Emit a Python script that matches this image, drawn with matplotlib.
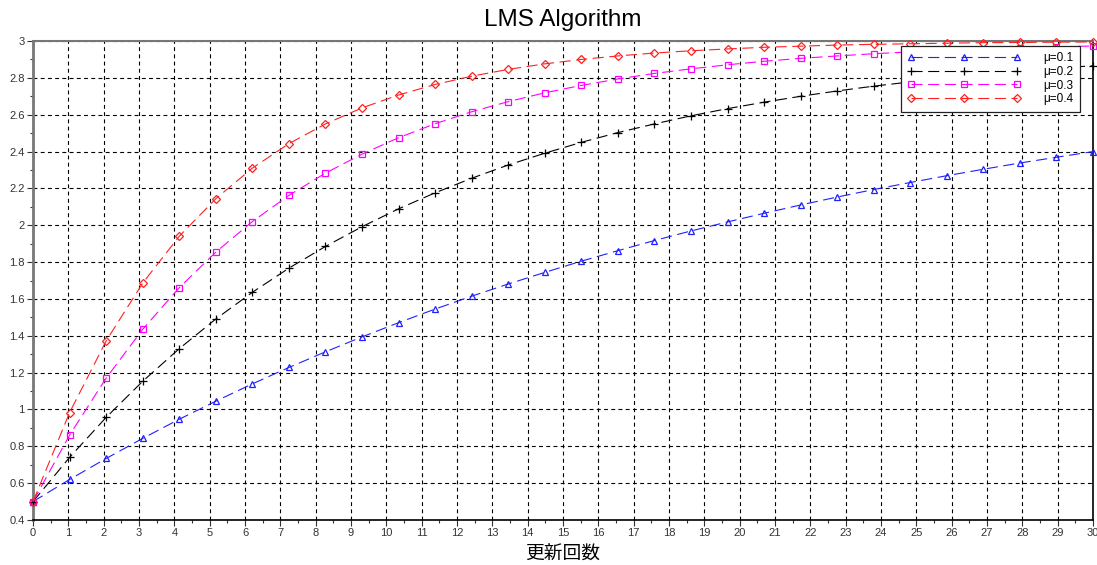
import matplotlib
matplotlib.use("Agg")
import matplotlib.pyplot as plt
import numpy as np
from matplotlib.ticker import MultipleLocator

plt.rcParams['font.family'] = ['Liberation Sans', 'Noto Sans CJK JP', 'DejaVu Sans']

# update index positions (30 samples spanning 0..30)
x_vals = np.linspace(0, 30, 30)

mu01 = [0.500, 0.620, 0.734, 0.843, 0.947, 1.045, 1.139, 1.228, 1.313, 1.394,
        1.471, 1.545, 1.615, 1.681, 1.744, 1.805, 1.862, 1.917, 1.969, 2.018,
        2.065, 2.110, 2.153, 2.194, 2.232, 2.269, 2.304, 2.338, 2.369, 2.400]
mu02 = [0.500, 0.740, 0.957, 1.153, 1.330, 1.491, 1.636, 1.767, 1.885, 1.992,
        2.089, 2.176, 2.255, 2.327, 2.391, 2.450, 2.503, 2.550, 2.594, 2.633,
        2.668, 2.700, 2.729, 2.755, 2.778, 2.800, 2.819, 2.836, 2.852, 2.866]
mu03 = [0.500, 0.861, 1.170, 1.435, 1.661, 1.854, 2.020, 2.162, 2.283, 2.386,
        2.475, 2.551, 2.616, 2.671, 2.719, 2.759, 2.794, 2.824, 2.849, 2.871,
        2.890, 2.906, 2.919, 2.931, 2.941, 2.950, 2.957, 2.963, 2.968, 2.973]
mu04 = [0.500, 0.983, 1.372, 1.686, 1.940, 2.144, 2.310, 2.443, 2.550, 2.637,
        2.707, 2.764, 2.809, 2.846, 2.876, 2.900, 2.919, 2.935, 2.947, 2.957,
        2.966, 2.972, 2.978, 2.982, 2.985, 2.988, 2.991, 2.992, 2.994, 2.995]

labels = ['μ=0.1', 'μ=0.2', 'μ=0.3', 'μ=0.4']
series = [mu01, mu02, mu03, mu04]
colors = ['#2020ff', '#000000', '#ff00ff', '#ff2020']
markers = ['^', '+', 's', 'D']
msizes = [4, 6, 5, 3.8]

fig = plt.figure(figsize=(10.97, 5.65), dpi=100)
ax = fig.add_axes([0.0301, 0.0796, 0.9663, 0.8478])

for y, lab, c, m, ms in zip(series, labels, colors, markers, msizes):
    ax.plot(x_vals, y, color=c, lw=0.8, dashes=(10, 5), marker=m, ms=ms,
            mfc='none', mec=c, mew=0.9, label=lab, clip_on=False, zorder=3)

ax.set_xlim(0, 30)
ax.set_ylim(0.4, 3.0)
ax.xaxis.set_minor_locator(MultipleLocator(0.5))
ax.yaxis.set_minor_locator(MultipleLocator(0.1))

def fmt(v):
    s = ('%.1f' % v).rstrip('0').rstrip('.')
    return s
xt = np.arange(0, 31, 1)
ax.set_xticks(xt)
ax.set_xticklabels([fmt(v) for v in xt])
yt = np.round(np.arange(0.4, 3.01, 0.2), 1)
ax.set_yticks(yt)
ax.set_yticklabels([fmt(v) for v in yt])

ax.tick_params(axis='both', which='major', labelsize=8, length=4, width=0.8,
               colors='#333333', labelcolor='#333333', direction='out', pad=2)
ax.tick_params(axis='both', which='minor', length=2.5, width=0.8, colors='#333333',
               direction='out')

ax.grid(True, which='major', color='black', lw=0.8, dashes=(3.5, 3))

ax.spines['left'].set_color('#777777')
ax.spines['left'].set_linewidth(2)
ax.spines['top'].set_color('#777777')
ax.spines['top'].set_linewidth(1.5)
ax.spines['bottom'].set_color('black')
ax.spines['bottom'].set_linewidth(1.2)
ax.spines['right'].set_color('black')
ax.spines['right'].set_linewidth(1.2)

ax.set_title('LMS Algorithm', fontsize=17.5, pad=11)
ax.set_xlabel('更新回数', fontsize=13.5, family=['Noto Sans CJK JP', 'DejaVu Sans'], labelpad=4)

leg = ax.legend(loc='upper right',
                bbox_to_anchor=(1080 / 1097, 1 - 46 / 565),
                bbox_transform=fig.transFigure,
                fontsize=8.5, numpoints=3, handlelength=9.6, fancybox=False,
                framealpha=1, edgecolor='#222222', borderpad=0.55,
                labelspacing=0.13, handletextpad=1.9, borderaxespad=0)
leg.get_frame().set_linewidth(0.9)

fig.savefig('out.png', dpi=100)
